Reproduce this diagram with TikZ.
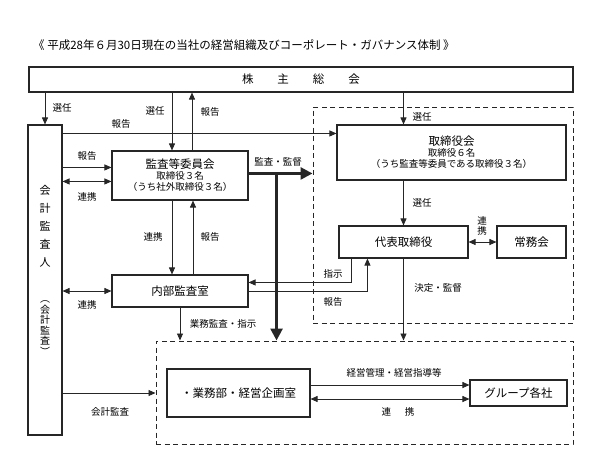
\documentclass[tikz,border=0pt]{standalone}
\usepackage{fontspec}
\setmainfont{Noto Sans CJK JP}
\usetikzlibrary{arrows.meta,calc}
\definecolor{ink}{gray}{0.15}
\tikzset{
  box/.style={draw=ink, line width=1.1pt, inner sep=0pt, align=center},
  lab/.style={font=\fontsize{9.5}{11}\selectfont, inner sep=0pt},
  ln/.style={draw=ink, line width=0.9pt},
  arr/.style={ln, -{Triangle[length=7pt,width=6pt]}},
  darr/.style={ln, {Triangle[length=7pt,width=6pt]}-{Triangle[length=7pt,width=6pt]}},
  bigarr/.style={draw=ink, line width=2.7pt, -{Triangle[length=12pt,width=12pt]}},
  dbox/.style={draw=ink, line width=1pt, dash pattern=on 5pt off 3.5pt, inner sep=0pt},
  big/.style={font=\fontsize{11.5}{13}\selectfont},
  sub/.style={font=\fontsize{9.5}{11}\selectfont}
}
\begin{document}
\begin{tikzpicture}[x=1pt,y=-1pt]
\useasboundingbox (0,0) rectangle (600,459);
% title
\node[anchor=west, inner sep=0pt, font=\fontsize{11.5}{13}\selectfont] (title) at (33,45)
  {《 平成28年６月30日現在の当社の経営組織及びコーポレート・ガバナンス体制 》};
% boxes
\node[box, minimum width=544pt, minimum height=25pt, big] (top) at (301,79.5)
  {株\hspace{24pt}主\hspace{24pt}総\hspace{24pt}会};
\node[box, minimum width=34pt, minimum height=310pt] (left) at (45,280) {};
\node[inner sep=0pt, align=center, font=\fontsize{11}{18}\selectfont] (lt1) at (45,226) {会\\計\\監\\査\\人};
\node[inner sep=0pt, align=center, font=\fontsize{10}{10.6}\selectfont] (lt2) at (45,328) {︵\\会\\計\\監\\査\\︶};
\node[box, minimum width=136pt, minimum height=49pt] (cm) at (180,175.5)
  {{\fontsize{11.5}{13}\selectfont 監査等委員会}\\[-1pt]{\fontsize{9.5}{11}\selectfont 取締役３名}\\[-1pt]{\fontsize{9.5}{11}\selectfont （うち社外取締役３名）}};
\node[box, minimum width=136pt, minimum height=32pt, big] (ia) at (180,291) {内部監査室};
\node[dbox, minimum width=260pt, minimum height=216pt] (dA) at (443,215) {};
\node[dbox, minimum width=417pt, minimum height=103pt] (dB) at (364.5,392.5) {};
\node[box, minimum width=229pt, minimum height=55pt] (board) at (451.5,152.5)
  {{\fontsize{11.5}{13}\selectfont 取締役会}\\[-1pt]{\fontsize{9.5}{11}\selectfont 取締役６名}\\[-1pt]{\fontsize{9.5}{11}\selectfont （うち監査等委員である取締役３名）}};
\node[box, minimum width=129pt, minimum height=32pt, big] (rep) at (403.5,242) {代表取締役};
\node[box, minimum width=69pt, minimum height=32pt, big] (jomu) at (531.5,242) {常務会};
\node[box, minimum width=143pt, minimum height=48pt, big] (gy) at (238.5,393) {・業務部・経営企画室};
\node[box, minimum width=97pt, minimum height=26pt, big] (gr) at (518.5,393) {グループ各社};
% connectors
\draw[arr] (left.north |- top.south) -- (left.north);
\node[lab] (l1) at (62,108) {選任};
\draw[arr] ([xshift=-8pt]cm.north |- top.south) -- ([xshift=-8pt]cm.north);
\node[lab] (l2) at (155,111) {選任};
\draw[arr] ([xshift=12pt]cm.north) -- ([xshift=12pt]cm.north |- top.south);
\node[lab] (l3) at (210,112) {報告};
\coordinate (rp) at ($(board.north west)+(0,9)$);
\draw[arr] (left.east |- rp) -- (rp);
\node[lab] (l4) at (121,124) {報告};
\coordinate (c1) at ($(cm.north west)+(0,17)$);
\coordinate (c2) at ($(cm.north west)+(0,31)$);
\draw[arr] (left.east |- c1) -- (c1);
\draw[darr] (left.east |- c2) -- (c2);
\node[lab] (l5) at (87,156) {報告};
\node[lab] (l6) at (87,197) {連携};
\coordinate (tk) at ($(cm.north east)+(28,23)$);
\draw[bigarr] ($(cm.north east)+(0,23)$) -- (dA.west |- tk);
\draw[bigarr] (tk) -- (tk |- dB.north);
\node[lab] (l7) at (278,162) {監査・監督};
\draw[arr] ([xshift=-8pt]cm.south) -- ([xshift=-8pt]ia.north);
\draw[arr] ([xshift=13pt]ia.north) -- ([xshift=13pt]cm.south);
\node[lab] (l8) at (153,237) {連携};
\node[lab] (l9) at (210,237) {報告};
\draw[darr] (left.east |- ia.west) -- (ia.west);
\node[lab] (l10) at (87,305) {連携};
\draw[arr] (ia.south) -- (ia.south |- dB.north);
\node[lab] (l11) at (223,324) {業務監査・指示};
\draw[arr] (rep.north |- top.south) -- (rep.north |- board.north);
\node[lab] (l12) at (422,117) {選任};
\draw[arr] (rep.north |- board.south) -- (rep.north);
\node[lab] (l13) at (422,203) {選任};
\draw[darr] (rep.east) -- (jomu.west);
\node[inner sep=0pt, align=center, font=\fontsize{9.5}{10}\selectfont] (l14) at (482,226) {連\\携};
\draw[arr] ([xshift=13pt]rep.south west) |- ($(ia.north east)+(0,8)$);
\node[lab] (l15) at (333,274) {指示};
\draw[arr] (ia.east) -| ([xshift=29pt]rep.south west);
\node[lab] (l16) at (333,302) {報告};
\draw[arr] (rep.south) -- (rep.south |- dB.north);
\node[lab] (l17) at (438,288) {決定・監督};
\coordinate (c3) at ($(gy.east)+(0,-8)$);
\coordinate (c4) at ($(gy.east)+(0,6)$);
\draw[arr] (c3) -- (c3 -| gr.west);
\draw[darr] (c4) -- (c4 -| gr.west);
\node[lab] (l18) at (394,373) {経営管理・経営指導等};
\node[lab] (l19) at (398,412) {連\hspace{14pt}携};
\draw[arr] (left.east |- gy.west) -- (dB.west |- gy.west);
\node[lab] (l20) at (110,412) {会計監査};
\end{tikzpicture}
\end{document}
